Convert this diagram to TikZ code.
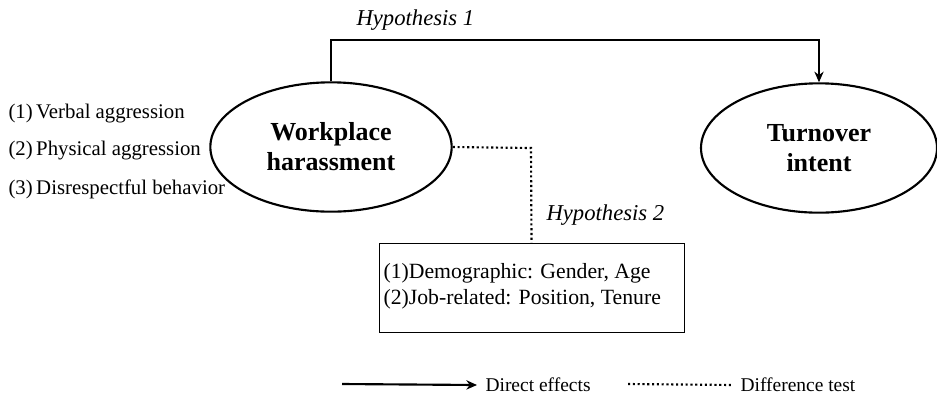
\documentclass[tikz,border=0pt]{standalone}
\usepackage{fontspec}
\setmainfont{Liberation Serif}
\usetikzlibrary{shapes.geometric,arrows.meta}

\begin{document}
\begin{tikzpicture}[x=0.75pt,y=-0.75pt,thick,
    var node/.style={ellipse,draw,line width=1.6pt,minimum width=181pt,minimum height=97pt,align=center,font=\fontsize{19.5}{22.5}\selectfont\bfseries},
    item text/.style={anchor=west,inner sep=0pt,font=\fontsize{15.6}{18}\selectfont},
    box text/.style={anchor=west,inner sep=0pt,font=\fontsize{16.3}{19}\selectfont},
    legend text/.style={anchor=west,inner sep=0pt,font=\fontsize{14.6}{17}\selectfont},
    hyp text/.style={anchor=west,inner sep=0pt,font=\fontsize{17}{19}\selectfont\itshape},
    direct/.style={-{Stealth[length=8pt,width=7pt]},line width=1pt},
    diff/.style={dotted,line width=1.6pt}]
        \useasboundingbox (0,0) rectangle (937,394);
        \node [var node] (wh) at (331,147) {Workplace\\harassment};
        \node [var node, minimum width=177pt] (ti) at (819,148) {Turnover\\intent};
        \node [item text] (v1) at (8,114) {(1)\,Verbal aggression};
        \node [item text] (v2) at (8,151) {(2)\,Physical aggression};
        \node [item text] (v3) at (8,189) {(3)\,Disrespectful behavior};
        \node [draw, line width=0.6pt, minimum width=228.75pt, minimum height=66.75pt] (mod) at (531.5,287.5) {};
        \node [box text] (m1) at (383,273) {(1)Demographic: Gender, Age};
        \node [box text] (m2) at (383,299) {(2)Job-related: Position, Tenure};
        \node [hyp text] (h1) at (356,20) {Hypothesis 1};
        \node [hyp text] (h2) at (546,215) {Hypothesis 2};
        \coordinate (c1) at (331,40);
        \coordinate (c2) at (531,148);
        \path [draw, direct] (wh.north) -- (c1) -| (ti.north);
        \path [draw, diff] (wh.east) -- (c2) -- (mod.north);
        % legend
        \node [legend text] (l1) at (485,385) {Direct effects};
        \node [legend text] (l2) at (740,385) {Difference test};
        \coordinate (a1) at (342,384);
        \coordinate (a2) at (628,384);
        \path [draw, direct, line width=1.6pt] (a1) -- ([xshift=-6pt]l1.west);
        \path [draw, diff] (a2) -- ([xshift=-5pt]l2.west);
    \end{tikzpicture}
\end{document}
